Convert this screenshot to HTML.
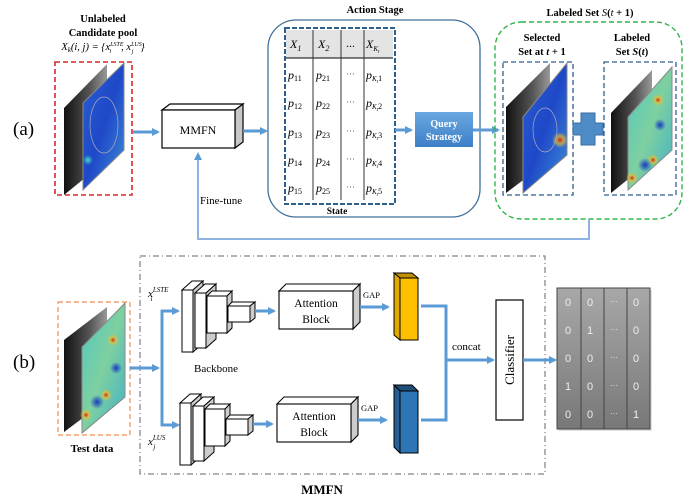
<!DOCTYPE html>
<html><head><meta charset="utf-8"><style>
body{margin:0;background:#fff;}
svg{display:block;font-family:"Liberation Serif",serif;}
</style></head><body>
<svg width="699" height="503" viewBox="0 0 699 503" xmlns="http://www.w3.org/2000/svg">
<defs>
<marker id="ah" markerWidth="8" markerHeight="8" refX="6" refY="4" orient="auto" markerUnits="userSpaceOnUse"><path d="M0,0 L8,4 L0,8 z" fill="#5b9bd5"/></marker>
<linearGradient id="blueg" x1="0" y1="0" x2="1" y2="1"><stop offset="0" stop-color="#2a5fd0"/><stop offset="0.5" stop-color="#1f48c8"/><stop offset="1" stop-color="#3d8fd8"/></linearGradient>
<radialGradient id="hot" cx="0.5" cy="0.5" r="0.5"><stop offset="0" stop-color="#d02020"/><stop offset="0.5" stop-color="#e8c030" stop-opacity="0.7"/><stop offset="1" stop-color="#e8c030" stop-opacity="0"/></radialGradient>
<radialGradient id="cold" cx="0.5" cy="0.5" r="0.5"><stop offset="0" stop-color="#1838c0"/><stop offset="1" stop-color="#1838c0" stop-opacity="0"/></radialGradient>
<radialGradient id="cyan" cx="0.5" cy="0.5" r="0.5"><stop offset="0" stop-color="#40e0c0"/><stop offset="1" stop-color="#40e0c0" stop-opacity="0"/></radialGradient>
<linearGradient id="greeng" x1="0" y1="0" x2="1" y2="1"><stop offset="0" stop-color="#50c8c0"/><stop offset="0.5" stop-color="#7ed0a0"/><stop offset="1" stop-color="#40b0c8"/></linearGradient>
<linearGradient id="usg" x1="0" y1="0" x2="1" y2="0"><stop offset="0" stop-color="#111"/><stop offset="0.6" stop-color="#555"/><stop offset="1" stop-color="#999"/></linearGradient>
<linearGradient id="qs" x1="0" y1="0" x2="0" y2="1"><stop offset="0" stop-color="#6aa8e0"/><stop offset="1" stop-color="#3d7fc8"/></linearGradient>
<linearGradient id="mat" x1="0" y1="0" x2="0" y2="1"><stop offset="0" stop-color="#a8a8a8"/><stop offset="1" stop-color="#787878"/></linearGradient>
</defs>

<!-- ========== (a) ========== -->
<text x="13" y="135" font-size="19">(a)</text>
<text x="103" y="22" font-size="10.5" font-weight="bold" text-anchor="middle">Unlabeled</text>
<text x="103" y="36" font-size="10.5" font-weight="bold" text-anchor="middle">Candidate pool</text>
<text x="103" y="50" font-size="10.5" font-style="italic" text-anchor="middle">X<tspan font-size="7" dy="2">k</tspan><tspan dy="-2">(i, j) = {x</tspan><tspan font-size="6" dy="-4">LSTE</tspan><tspan font-size="6" dx="-14" dy="7">i</tspan><tspan dx="10" dy="-3">, x</tspan><tspan font-size="6" dy="-4">LUS</tspan><tspan font-size="6" dx="-10" dy="7">j</tspan><tspan dx="7" dy="-3">}</tspan></text>
<rect x="55" y="62" width="77" height="133" fill="none" stroke="#d42a2a" stroke-width="1.6" stroke-dasharray="5,3"/>
<polygon points="64,108 107,64 107,160 64,195" fill="url(#usg)"/>
<polygon points="83,103 124,63 124,150 83,190" fill="url(#blueg)" stroke="#888" stroke-width="1"/>
<ellipse cx="104" cy="125" rx="14" ry="28" fill="none" stroke="#aab" stroke-width="0.7"/>
<circle cx="88" cy="160" r="5" fill="url(#cyan)"/>

<line x1="133" y1="132" x2="158" y2="132" stroke="#5b9bd5" stroke-width="3" marker-end="url(#ah)"/>
<!-- MMFN box -->
<polygon points="162,110 170,104 243,104 235,110" fill="#fff" stroke="#000" stroke-width="1.2"/>
<polygon points="235,110 243,104 243,142 235,148" fill="#c8c8c8" stroke="#000" stroke-width="1.2"/>
<rect x="162" y="110" width="73" height="38" fill="#fff" stroke="#000" stroke-width="1.2"/>
<text x="198" y="134" font-size="12" text-anchor="middle">MMFN</text>
<line x1="243" y1="131" x2="266" y2="131" stroke="#5b9bd5" stroke-width="3" marker-end="url(#ah)"/>

<!-- Action stage -->
<text x="375" y="13" font-size="10.5" font-weight="bold" text-anchor="middle">Action Stage</text>
<rect x="268" y="20" width="212" height="197" rx="28" fill="none" stroke="#41719c" stroke-width="1.3"/>
<rect x="286" y="30" width="107" height="28" fill="#e4e4e4"/>
<rect x="285" y="28" width="110" height="176" fill="none" stroke="#2e5f8e" stroke-width="2" stroke-dasharray="5,2"/>
<line x1="286" y1="58" x2="393" y2="58" stroke="#333" stroke-width="1.3"/>
<line x1="313" y1="30" x2="313" y2="200" stroke="#333" stroke-width="1"/>
<line x1="341" y1="30" x2="341" y2="200" stroke="#333" stroke-width="1"/>
<line x1="364" y1="30" x2="364" y2="200" stroke="#333" stroke-width="1"/>
<g font-size="12" font-style="italic">
<text x="290" y="48">X<tspan font-size="8" dy="3">1</tspan></text>
<text x="318" y="48">X<tspan font-size="8" dy="3">2</tspan></text>
<text x="346" y="47" font-style="normal">...</text>
<text x="366" y="48">X<tspan font-size="7" dy="3">K</tspan><tspan font-size="5" dy="2">t</tspan></text>
</g>
<g font-size="12" font-style="italic">
<text x="288" y="79">p<tspan font-size="8" dy="2" font-style="normal">11</tspan></text>
<text x="316" y="79">p<tspan font-size="8" dy="2" font-style="normal">21</tspan></text>
<text x="288" y="107">p<tspan font-size="8" dy="2" font-style="normal">12</tspan></text>
<text x="316" y="107">p<tspan font-size="8" dy="2" font-style="normal">22</tspan></text>
<text x="288" y="136">p<tspan font-size="8" dy="2" font-style="normal">13</tspan></text>
<text x="316" y="136">p<tspan font-size="8" dy="2" font-style="normal">23</tspan></text>
<text x="288" y="164">p<tspan font-size="8" dy="2" font-style="normal">14</tspan></text>
<text x="316" y="164">p<tspan font-size="8" dy="2" font-style="normal">24</tspan></text>
<text x="288" y="192">p<tspan font-size="8" dy="2" font-style="normal">15</tspan></text>
<text x="316" y="192">p<tspan font-size="8" dy="2" font-style="normal">25</tspan></text>
<text x="366" y="79">p<tspan font-size="7" dy="2">K</tspan><tspan font-size="5" dy="2">t</tspan><tspan font-size="8" dy="-2" font-style="normal">1</tspan></text>
<text x="366" y="107">p<tspan font-size="7" dy="2">K</tspan><tspan font-size="5" dy="2">t</tspan><tspan font-size="8" dy="-2" font-style="normal">2</tspan></text>
<text x="366" y="136">p<tspan font-size="7" dy="2">K</tspan><tspan font-size="5" dy="2">t</tspan><tspan font-size="8" dy="-2" font-style="normal">3</tspan></text>
<text x="366" y="164">p<tspan font-size="7" dy="2">K</tspan><tspan font-size="5" dy="2">t</tspan><tspan font-size="8" dy="-2" font-style="normal">4</tspan></text>
<text x="366" y="192">p<tspan font-size="7" dy="2">K</tspan><tspan font-size="5" dy="2">t</tspan><tspan font-size="8" dy="-2" font-style="normal">5</tspan></text>
</g>
<g font-size="9" fill="#555"><text x="346" y="77">···</text><text x="346" y="105">···</text><text x="346" y="134">···</text><text x="346" y="162">···</text><text x="346" y="190">···</text></g>
<text x="337" y="214" font-size="9.5" font-weight="bold" text-anchor="middle">State</text>

<line x1="395" y1="130" x2="411" y2="130" stroke="#5b9bd5" stroke-width="3" marker-end="url(#ah)"/>
<rect x="415" y="112" width="58" height="35" fill="url(#qs)"/>
<text x="444" y="127" font-size="10" font-weight="bold" fill="#fff" text-anchor="middle">Query</text>
<text x="444" y="140" font-size="10" font-weight="bold" fill="#fff" text-anchor="middle">Strategy</text>
<line x1="473" y1="130" x2="498" y2="130" stroke="#5b9bd5" stroke-width="3" marker-end="url(#ah)"/>

<!-- Labeled set -->
<text x="590" y="16" font-size="10.5" font-weight="bold" text-anchor="middle">Labeled Set <tspan font-style="italic" font-weight="normal">S</tspan>(<tspan font-style="italic" font-weight="normal">t</tspan> + 1)</text>
<rect x="495" y="22" width="187" height="197" rx="26" fill="none" stroke="#2fb34a" stroke-width="1.4" stroke-dasharray="5,3"/>
<text x="542" y="41" font-size="10.5" font-weight="bold" text-anchor="middle">Selected</text>
<text x="542" y="55" font-size="10.5" font-weight="bold" text-anchor="middle">Set at <tspan font-style="italic">t</tspan> + 1</text>
<text x="632" y="41" font-size="10.5" font-weight="bold" text-anchor="middle">Labeled</text>
<text x="632" y="55" font-size="10.5" font-weight="bold" text-anchor="middle">Set <tspan font-style="italic">S</tspan>(<tspan font-style="italic">t</tspan>)</text>
<rect x="503" y="62" width="70" height="133" fill="none" stroke="#2e5f8e" stroke-width="1.3" stroke-dasharray="5,3"/>
<rect x="604" y="62" width="72" height="133" fill="none" stroke="#2e5f8e" stroke-width="1.3" stroke-dasharray="5,3"/>
<polygon points="506,107 550,63 550,160 506,193" fill="url(#usg)"/>
<polygon points="523,117 567,63 567,155 523,193" fill="url(#blueg)" stroke="#888" stroke-width="1"/>
<circle cx="560" cy="140" r="8" fill="url(#hot)"/>
<ellipse cx="545" cy="130" rx="12" ry="22" fill="none" stroke="#aab" stroke-width="0.7"/>
<polygon points="611,113 652,70 652,160 611,193" fill="url(#usg)"/>
<polygon points="628,117 672,67 672,150 628,190" fill="url(#greeng)" stroke="#888" stroke-width="1"/>
<circle cx="658" cy="100" r="6" fill="url(#hot)"/><circle cx="632" cy="178" r="6" fill="url(#hot)"/><circle cx="653" cy="160" r="6" fill="url(#hot)"/>
<circle cx="645" cy="165" r="7" fill="url(#cold)"/><circle cx="660" cy="125" r="6" fill="url(#cold)"/>
<!-- plus -->
<path d="M581,113 h14 v10 h8 v12 h-8 v10 h-14 v-10 h-8 v-12 h8 z" fill="#4e8cc8" stroke="#3a6ea5" stroke-width="1"/>

<!-- feedback -->
<polyline points="589,219 589,239 198,239 198,154" fill="none" stroke="#8fb4e3" stroke-width="2" marker-end="url(#ah)"/>
<text x="200" y="204" font-size="11">Fine-tune</text>

<!-- ========== (b) ========== -->
<text x="13" y="368" font-size="19">(b)</text>
<rect x="58" y="302" width="72" height="133" fill="none" stroke="#f0a070" stroke-width="1.4" stroke-dasharray="5,3"/>
<polygon points="64,340 107,307 107,400 64,432" fill="url(#usg)"/>
<polygon points="82,347 125,303 125,397 82,433" fill="url(#greeng)" stroke="#888" stroke-width="1"/>
<circle cx="113" cy="340" r="6" fill="url(#hot)"/><circle cx="86" cy="415" r="6" fill="url(#hot)"/><circle cx="106" cy="395" r="6" fill="url(#hot)"/>
<circle cx="97" cy="402" r="7" fill="url(#cold)"/><circle cx="116" cy="368" r="6" fill="url(#cold)"/>
<text x="92" y="452" font-size="11" font-weight="bold" text-anchor="middle">Test data</text>

<rect x="140" y="256" width="405" height="218" fill="none" stroke="#666" stroke-width="1" stroke-dasharray="6,3,1,3"/>
<text x="322" y="494" font-size="13" font-weight="bold" text-anchor="middle">MMFN</text>

<line x1="130" y1="368" x2="158" y2="368" stroke="#5b9bd5" stroke-width="3" marker-end="url(#ah)"/>
<polyline points="162,310 162,426" fill="none" stroke="#5b9bd5" stroke-width="3"/>
<line x1="161" y1="311" x2="178" y2="311" stroke="#5b9bd5" stroke-width="3" marker-end="url(#ah)"/>
<line x1="161" y1="425" x2="178" y2="425" stroke="#5b9bd5" stroke-width="3" marker-end="url(#ah)"/>
<text x="148" y="297" font-size="11" font-style="italic">x<tspan font-size="7" dy="-5">LSTE</tspan><tspan font-size="7" dx="-18" dy="9">i</tspan></text>
<text x="148" y="445" font-size="11" font-style="italic">x<tspan font-size="7" dy="-5">LUS</tspan><tspan font-size="7" dx="-12" dy="9">j</tspan></text>
<text x="216" y="372" font-size="11" text-anchor="middle">Backbone</text>

<!-- backbone template -->
<g id="bb">
<polygon points="182,290 192,281 203,281 193,290" fill="#fff" stroke="#000" stroke-width="1"/>
<polygon points="193,290 203,281 203,343 193,352" fill="#ccc" stroke="#000" stroke-width="1"/>
<rect x="182" y="290" width="11" height="62" fill="#fff" stroke="#000" stroke-width="1"/>
<polygon points="195,293 205,284 216,284 206,293" fill="#fff" stroke="#000" stroke-width="1"/>
<polygon points="206,293 216,284 216,339 206,348" fill="#ccc" stroke="#000" stroke-width="1"/>
<rect x="195" y="293" width="11" height="55" fill="#fff" stroke="#000" stroke-width="1"/>
<polygon points="207,296 212,291 232,291 227,296" fill="#fff" stroke="#000" stroke-width="1"/>
<polygon points="227,296 232,291 232,328 227,333" fill="#ccc" stroke="#000" stroke-width="1"/>
<rect x="207" y="296" width="20" height="37" fill="#fff" stroke="#000" stroke-width="1"/>
<polygon points="228,306 232,302 255,302 250,306" fill="#fff" stroke="#000" stroke-width="1"/>
<polygon points="250,306 255,302 255,318 250,322" fill="#ccc" stroke="#000" stroke-width="1"/>
<rect x="228" y="306" width="22" height="16" fill="#fff" stroke="#000" stroke-width="1"/>
<line x1="255" y1="311" x2="274" y2="311" stroke="#5b9bd5" stroke-width="3" marker-end="url(#ah)"/>
<polygon points="279,291 286,284 360,284 353,291" fill="#fff" stroke="#000" stroke-width="1.1"/>
<polygon points="353,291 360,284 360,322 353,329" fill="#ccc" stroke="#000" stroke-width="1.1"/>
<rect x="279" y="291" width="74" height="38" fill="#fff" stroke="#000" stroke-width="1.1"/>
<text x="316" y="307" font-size="11.5" text-anchor="middle">Attention</text>
<text x="316" y="323" font-size="11.5" text-anchor="middle">Block</text>
<text x="363" y="298" font-size="8.5">GAP</text>
<line x1="360" y1="307" x2="388" y2="307" stroke="#5b9bd5" stroke-width="3" marker-end="url(#ah)"/>
</g>
<use href="#bb" transform="translate(-2,113)"/>

<!-- bars -->
<polygon points="394,273 400,278 418,278 412,273" fill="#c09000" stroke="#000" stroke-width="1"/>
<polygon points="394,273 400,278 400,340 394,335" fill="#e0a800" stroke="#000" stroke-width="1"/>
<rect x="400" y="278" width="18" height="62" fill="#ffc000" stroke="#000" stroke-width="1"/>
<polygon points="394,385 400,391 418,391 412,385" fill="#1f4e79" stroke="#000" stroke-width="1"/>
<polygon points="394,385 400,391 400,453 394,447" fill="#2a5f95" stroke="#000" stroke-width="1"/>
<rect x="400" y="391" width="18" height="62" fill="#2e75b6" stroke="#000" stroke-width="1"/>

<polyline points="421,306 446,306 446,420 421,420" fill="none" stroke="#5b9bd5" stroke-width="3"/>
<line x1="446" y1="360" x2="493" y2="360" stroke="#5b9bd5" stroke-width="3" marker-end="url(#ah)"/>
<text x="452" y="350" font-size="11">concat</text>
<rect x="496" y="300" width="27" height="120" fill="#fff" stroke="#000" stroke-width="1.2"/>
<text x="0" y="0" font-size="13" text-anchor="middle" transform="translate(514,360) rotate(-90)">Classifier</text>
<line x1="523" y1="360" x2="555" y2="360" stroke="#5b9bd5" stroke-width="3" marker-end="url(#ah)"/>

<!-- matrix -->
<rect x="559" y="290" width="93" height="141" fill="#ccc" opacity="0.6"/>
<rect x="557" y="288" width="93" height="141" fill="url(#mat)" stroke="#444" stroke-width="1"/>
<line x1="581" y1="288" x2="581" y2="429" stroke="#444"/>
<line x1="604" y1="288" x2="604" y2="429" stroke="#444"/>
<line x1="627" y1="288" x2="627" y2="429" stroke="#444"/>
<g font-size="11" fill="#eee" text-anchor="middle" font-family="Liberation Sans, sans-serif">
<text x="568" y="306">0</text><text x="590" y="306">0</text><text x="614" y="304" font-size="8">···</text><text x="636" y="306">0</text>
<text x="568" y="334">0</text><text x="590" y="334">1</text><text x="614" y="332" font-size="8">···</text><text x="636" y="334">0</text>
<text x="568" y="362">0</text><text x="590" y="362">0</text><text x="614" y="360" font-size="8">···</text><text x="636" y="362">0</text>
<text x="568" y="390">1</text><text x="590" y="390">0</text><text x="614" y="388" font-size="8">···</text><text x="636" y="390">0</text>
<text x="568" y="418">0</text><text x="590" y="418">0</text><text x="614" y="416" font-size="8">···</text><text x="636" y="418">1</text>
</g>
</svg>
</body></html>
